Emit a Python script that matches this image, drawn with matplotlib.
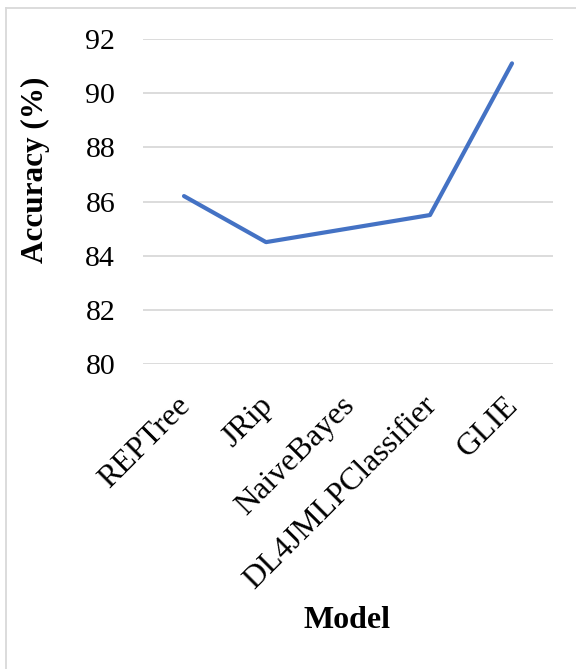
import matplotlib
matplotlib.use("Agg")
import matplotlib.pyplot as plt
from matplotlib.lines import Line2D
from matplotlib.transforms import ScaledTranslation

models = ["REPTree", "JRip", "NaiveBayes", "DL4JMLPClassifier", "GLIE"]
accuracy = [86.2, 84.5, 85.0, 85.5, 91.1]
y_ticks = [80, 82, 84, 86, 88, 90, 92]

plt.rcParams["font.family"] = ["Liberation Serif", "DejaVu Serif"]

W, H = 576, 669
fig = plt.figure(figsize=(W / 100, H / 100), dpi=100)
ax = fig.add_axes([143 / W, 1 - 364 / H, (553 - 143) / W, (364 - 39) / H])

x = list(range(len(models)))
ax.plot(x, accuracy, color="#4472C4", lw=3.0, solid_capstyle="round",
        solid_joinstyle="round", zorder=3)

ax.set_xlim(-0.5, len(models) - 0.5)
ax.set_ylim(80, 92)
ax.set_yticks(y_ticks)
ax.set_yticklabels([str(v) for v in y_ticks], fontsize=21.5)
ax.yaxis.grid(True, color="#D9D9D9", lw=1.3)
ax.set_axisbelow(True)
ax.tick_params(axis="y", length=0, pad=20)
ax.tick_params(axis="x", length=0, pad=19.5)
for s in ax.spines.values():
    s.set_visible(False)

ax.set_xticks(x)
ax.set_xticklabels(models, fontsize=23, rotation=45, ha="right",
                   rotation_mode="anchor")
shift = ScaledTranslation(-8 / 100, 0, fig.dpi_scale_trans)
for lab in ax.get_xticklabels():
    lab.set_transform(lab.get_transform() + shift)

fig.text(35 / W, 1 - 170 / H, "Accuracy (%)", fontsize=22.5, fontweight="bold",
         rotation=90, ha="center", va="center")
fig.text(347 / W, 1 - 620 / H, "Model", fontsize=23, fontweight="bold",
         ha="center", va="center")

# light frame along the top and left edges of the figure
fig.add_artist(Line2D([5.5 / W, 5.5 / W], [0, 1 - 7.5 / H], color="#D9D9D9",
                      lw=1.3, transform=fig.transFigure))
fig.add_artist(Line2D([5.5 / W, 1], [1 - 7.5 / H, 1 - 7.5 / H], color="#D9D9D9",
                      lw=1.3, transform=fig.transFigure))

fig.savefig("out.png", dpi=100, facecolor="white")
